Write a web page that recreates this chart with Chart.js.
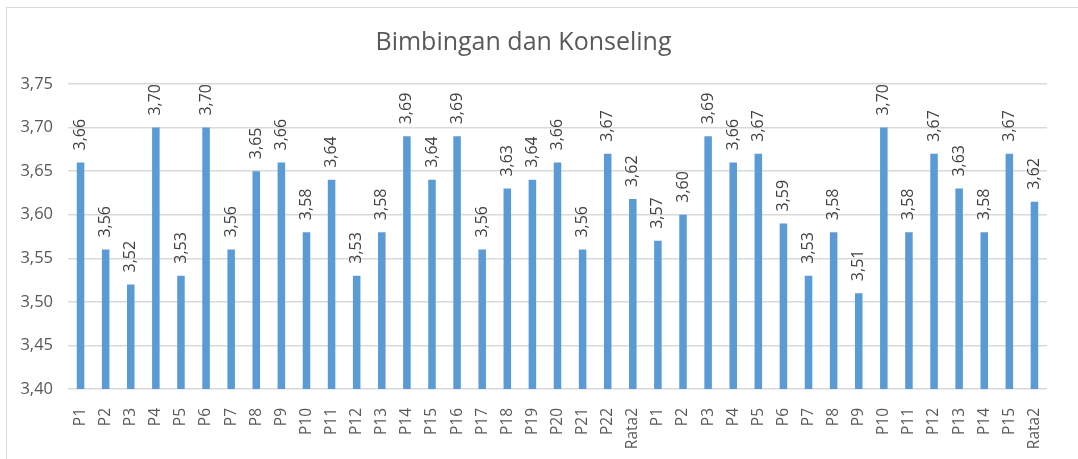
<!DOCTYPE html>
<html>
<head>
<meta charset="utf-8">
<script src="https://cdn.jsdelivr.net/npm/chart.js@4/dist/chart.umd.min.js"></script>
<style>
  html, body { margin: 0; padding: 0; background: #fff; }
  #wrap { position: relative; width: 1078px; height: 459px; overflow: hidden; }
  #frame { position: absolute; left: 6px; top: 7px; width: 1200px; height: 600px; border: 1px solid #d9d9d9; box-sizing: border-box; }
  canvas { position: absolute; left: 0; top: 0; }
</style>
</head>
<body>
<div id="wrap">
  <div id="frame"></div>
  <canvas id="chart" width="1078" height="459"></canvas>
</div>
<script>
  const labels = [
    "P1", "P2", "P3", "P4", "P5", "P6", "P7", "P8", "P9", "P10", "P11",
    "P12", "P13", "P14", "P15", "P16", "P17", "P18", "P19", "P20", "P21", "P22", "Rata2",
    "P1", "P2", "P3", "P4", "P5", "P6", "P7", "P8", "P9", "P10", "P11",
    "P12", "P13", "P14", "P15", "Rata2",
  ];
  const values = [
    3.66, 3.56, 3.52, 3.70, 3.53, 3.70, 3.56, 3.65, 3.66, 3.58, 3.64,
    3.53, 3.58, 3.69, 3.64, 3.69, 3.56, 3.63, 3.64, 3.66, 3.56, 3.67, 3.618,
    3.57, 3.60, 3.69, 3.66, 3.67, 3.59, 3.53, 3.58, 3.51, 3.70, 3.58,
    3.67, 3.63, 3.58, 3.67, 3.615,
  ];
  const yMin = 3.40;
  const yMax = 3.75;
  const yStep = 0.05;

  const FONT = "'Open Sans', sans-serif";
  const fmt = (v) => v.toFixed(2).replace(".", ",");

  // rotated value labels above each bar
  const barLabels = {
    id: "barLabels",
    afterDatasetsDraw(chart) {
      const ctx = chart.ctx;
      const meta = chart.getDatasetMeta(0);
      ctx.save();
      ctx.font = "16px " + FONT;
      ctx.fillStyle = "#404040";
      ctx.textAlign = "left";
      ctx.textBaseline = "middle";
      meta.data.forEach((bar, i) => {
        ctx.save();
        ctx.translate(bar.x, bar.y - 12);
        ctx.rotate(-Math.PI / 2);
        ctx.fillText(fmt(values[i]), 0, 0);
        ctx.restore();
      });
      ctx.restore();
    },
  };

  new Chart(document.getElementById("chart"), {
    type: "bar",
    data: {
      labels,
      datasets: [
        {
          data: values,
          backgroundColor: "#5b9bd5",
          borderWidth: 0,
          barPercentage: 0.3,
          categoryPercentage: 1,
        },
      ],
    },
    options: {
      responsive: false,
      animation: false,
      layout: { padding: { top: 0, right: 31, bottom: 0, left: 0 } },
      plugins: {
        legend: { display: false },
        tooltip: { enabled: false },
        title: {
          display: true,
          text: "Bimbingan dan Konseling",
          color: "#595959",
          font: { family: FONT, size: 25, weight: "normal" },
          padding: { top: 28, bottom: 26 },
        },
      },
      scales: {
        x: {
          grid: { display: false },
          border: { display: false },
          ticks: {
            color: "#595959",
            font: { family: FONT, size: 15.5 },
            minRotation: 90,
            maxRotation: 90,
            autoSkip: false,
            padding: 11,
          },
          afterFit: (scale) => { scale.height = 70; },
        },
        y: {
          min: yMin,
          max: yMax,
          grid: { color: "#d9d9d9", lineWidth: 1.5, drawTicks: false },
          border: { display: false },
          ticks: {
            stepSize: yStep,
            color: "#595959",
            font: { family: FONT, size: 16.5 },
            padding: 15,
            callback: (v) => fmt(v),
          },
          afterFit: (scale) => { scale.width = 68; },
        },
      },
    },
    plugins: [barLabels],
  });
</script>
</body>
</html>
